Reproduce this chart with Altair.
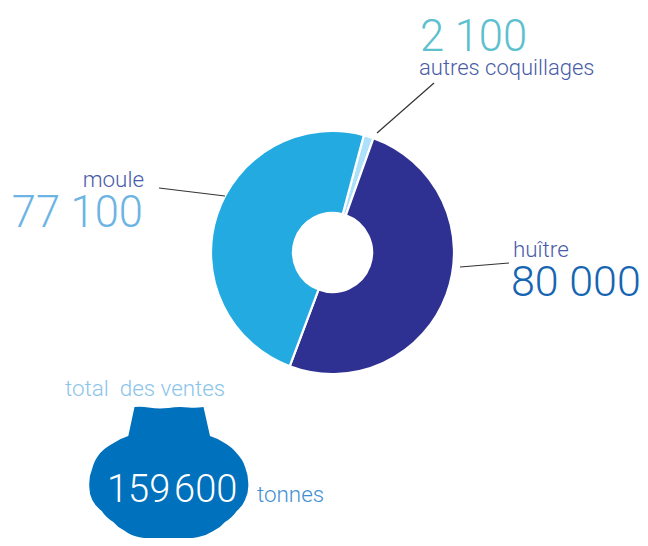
import altair as alt
import pandas as pd

categories = ["autres coquillages", "huître", "moule"]
tonnes = [2100, 80000, 77100]
slice_order = [0, 1, 2]
slice_colors = ["#ade0f9", "#2e3191", "#23aae1"]

FONT = "Roboto"
BIG = 43.5
SMALL = 22.4
NAVY = "#4a5ca8"

pie = pd.DataFrame({"cat": categories, "t": tonnes, "o": slice_order})

donut = alt.Chart(pie).mark_arc(
    outerRadius=121.5, innerRadius=39.5, stroke="white", strokeWidth=2.2
).encode(
    x=alt.value(324.5),
    y=alt.value(244.5),
    theta=alt.Theta("t:Q", stack=True, scale=alt.Scale(range=[0.2610, 6.5442])),
    order=alt.Order("o:Q"),
    color=alt.Color("cat:N", legend=None,
                    scale=alt.Scale(domain=categories, range=slice_colors)),
)


def point_chart():
    return alt.Chart(alt.Data(values=[{"a": 0}]))


def leader(x1, y1, x2, y2):
    return point_chart().mark_rule(color="#333333", strokeWidth=1.2).encode(
        x=alt.value(x1 - 8), y=alt.value(y1 - 8),
        x2=alt.value(x2 - 8), y2=alt.value(y2 - 8))


def label(s, x, base, size, color, align="left", weight=300):
    return point_chart().mark_text(
        text=s, font=FONT, fontSize=size, fontWeight=weight, color=color,
        align=align, baseline="alphabetic"
    ).encode(x=alt.value(x - 8), y=alt.value(base - 8))


TOP_EDGE = [(-34, -71), (-20, -70.5), (0, -70), (20, -70.5), (35, -71)]
BODY_EDGE = [(41.5, -42), (56.5, -34.7), (68.2, -24.7), (76.5, -11.3), (79.8, 7),
             (76.5, 22), (68.2, 33), (56.5, 44), (44.8, 53), (29.8, 59), (10, 60.5),
             (-10, 60.5), (-30.2, 59), (-43.5, 53), (-55.2, 44), (-66.8, 33),
             (-76.2, 22), (-79.2, 7), (-76.2, -9.7), (-68.5, -24.7), (-55.2, -34.7),
             (-40.2, -42)]


def shell_path(top, body):
    d = f"M{top[0][0]},{top[0][1]}"
    for i, b in enumerate(top[1:]):
        a = top[i]
        mx = (a[0] + b[0]) / 2
        d += f" Q{mx:.1f},{b[1] + (1.2 if i % 2 else -1.2):.1f} {b[0]},{b[1]}"
    d += f" L{body[0][0]},{body[0][1]}"
    for i, b in enumerate(body[1:]):
        a = body[i]
        mx, my = (a[0] + b[0]) / 2, (a[1] + b[1]) / 2
        d += f" Q{mx * 1.025:.1f},{my * 1.025:.1f} {b[0]},{b[1]}"
    return d + " Z"


shell = point_chart().mark_point(
    shape=shell_path(TOP_EDGE, BODY_EDGE), size=4, filled=True, fill="#0071bc",
    opacity=1, strokeWidth=0
).encode(x=alt.value(160.5), y=alt.value(470))

layers = [
    donut,
    leader(159, 188, 225, 196),
    leader(460, 267, 509, 263),
    leader(377, 133, 434, 83),
    label("2 100", 420, 51, BIG, "#5cc0cf"),
    label("autres coquillages", 419, 75, 22, NAVY),
    label("moule", 144, 187, SMALL, NAVY, "right"),
    label("77 100", 143, 227, BIG, "#6cb4e4", "right"),
    label("huître", 513, 257, SMALL, NAVY),
    label("80 000", 511, 296, 43, "#1565b3"),
    label("total\u00a0 des ventes", 65, 396, SMALL, "#8cc4ea"),
    shell,
    label("159\u200a600", 107, 502, 38, "#ffffff"),
    label("tonnes", 257, 502, SMALL, "#3f8fd2"),
]

chart = alt.layer(*layers).properties(
    width=632, height=530, padding=0,
    autosize=alt.AutoSizeParams(type="none"),
    background="white",
).configure_view(stroke=None)

chart.save("out.html", embed_options={"renderer": "svg", "actions": False})
